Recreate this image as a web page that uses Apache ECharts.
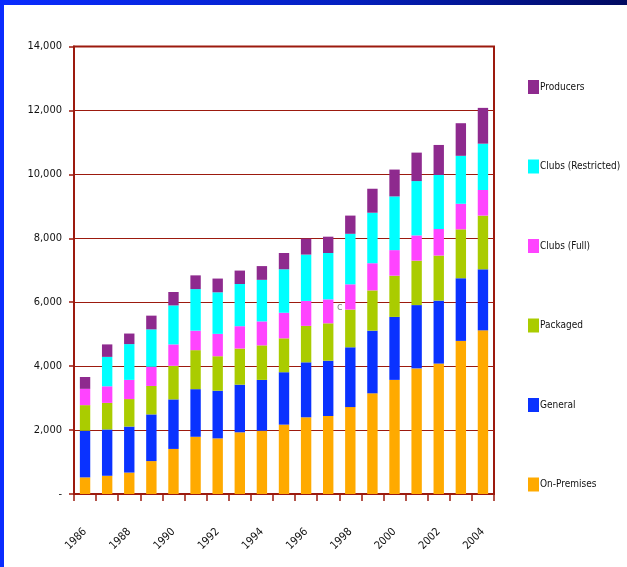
<!DOCTYPE html>
<html>
<head>
<meta charset="utf-8">
<script src="https://cdn.jsdelivr.net/npm/echarts@6/dist/echarts.min.js"></script>
<style>
html,body{margin:0;padding:0;background:#fff;}
#chart{width:627px;height:567px;}
</style>
</head>
<body>
<div id="chart"></div>
<script>
var years = ['1986','1987','1988','1989','1990','1991','1992','1993','1994','1995','1996','1997','1998','1999','2000','2001','2002','2003','2004'];
var onPremises = [520,570,670,1030,1410,1790,1740,1930,1980,2170,2400,2440,2720,3150,3570,3930,4080,4790,5120];
var general = [1460,1450,1440,1460,1550,1490,1490,1490,1590,1640,1720,1730,1870,1960,1970,1980,1970,1960,1910];
var packaged = [800,830,860,890,1050,1220,1080,1130,1080,1060,1140,1170,1180,1260,1290,1390,1410,1530,1680];
var clubsFull = [510,520,600,600,670,610,700,700,750,800,780,750,790,850,800,790,830,800,800];
var clubsRestricted = [0,920,1120,1170,1220,1300,1300,1320,1300,1360,1450,1450,1580,1580,1680,1700,1690,1500,1450];
var producers = [370,390,330,430,420,430,430,420,430,510,500,510,570,750,840,890,940,1020,1120];
var legendOrder = ['Producers','Clubs (Restricted)','Clubs (Full)','Packaged','General','On-Premises'];

var RED = '#9C1A0E';
var FONT = "'Liberation Sans Narrow','DejaVu Sans Condensed','Arial Narrow','Liberation Sans',Arial,sans-serif";

var seriesDefs = [
  {name:'On-Premises', data:onPremises, color:'#FFAA00'},
  {name:'General', data:general, color:'#0A32FF'},
  {name:'Packaged', data:packaged, color:'#AACC00'},
  {name:'Clubs (Full)', data:clubsFull, color:'#FF44FF'},
  {name:'Clubs (Restricted)', data:clubsRestricted, color:'#00FFFF'},
  {name:'Producers', data:producers, color:'#8E2A8E'}
];

var chart = echarts.init(document.getElementById('chart'), null, {renderer:'canvas'});
chart.setOption({
  animation:false,
  backgroundColor:'#fff',
  graphic:[
    {type:'rect', left:0, top:0, shape:{width:4, height:567}, style:{fill:'#0A2CFF'}, z:100},
    {type:'rect', left:0, top:0, shape:{width:627, height:5},
     style:{fill:new echarts.graphic.LinearGradient(0,0,1,0,[{offset:0,color:'#0A2CFF'},{offset:0.55,color:'#0420C0'},{offset:1,color:'#010A60'}])}, z:100},
    {type:'text', left:337, top:302, style:{text:'c', fill:'#888', font:'11px '+FONT}, z:50}
  ],
  legend:{
    orient:'vertical', left:528, top:80, itemWidth:11, itemHeight:14, itemGap:65.5,
    icon:'rect', padding:0, data:legendOrder,
    textStyle:{fontFamily:FONT, fontSize:10, color:'#111', padding:[0,0,0,-4]}
  },
  grid:{left:74, right:133, top:46.5, bottom:73, show:true, borderColor:RED, borderWidth:2, backgroundColor:'transparent'},
  xAxis:{
    type:'category', data:years, boundaryGap:true,
    axisLine:{lineStyle:{color:RED, width:2}},
    axisTick:{show:true, length:7, alignWithLabel:false, interval:0, lineStyle:{color:RED, width:1.5}},
    axisLabel:{interval:1, rotate:45, margin:36, fontFamily:FONT, fontSize:11, color:'#111'}
  },
  yAxis:{
    type:'value', min:0, max:14000, interval:2000,
    axisLine:{show:true, lineStyle:{color:RED, width:2}},
    axisTick:{show:true, length:5, lineStyle:{color:RED, width:1.5}},
    splitLine:{show:true, lineStyle:{color:RED, width:1.2}},
    axisLabel:{margin:12, fontFamily:FONT, fontSize:11, color:'#111', padding:[0,0,6,0],
      formatter:function(v){ return v===0 ? '-' : v.toLocaleString('en-US'); }}
  },
  series: seriesDefs.map(function(s){
    return {name:s.name, type:'bar', stack:'total', data:s.data, barWidth:'47%',
      itemStyle:{color:s.color}};
  })
});
</script>
</body>
</html>
